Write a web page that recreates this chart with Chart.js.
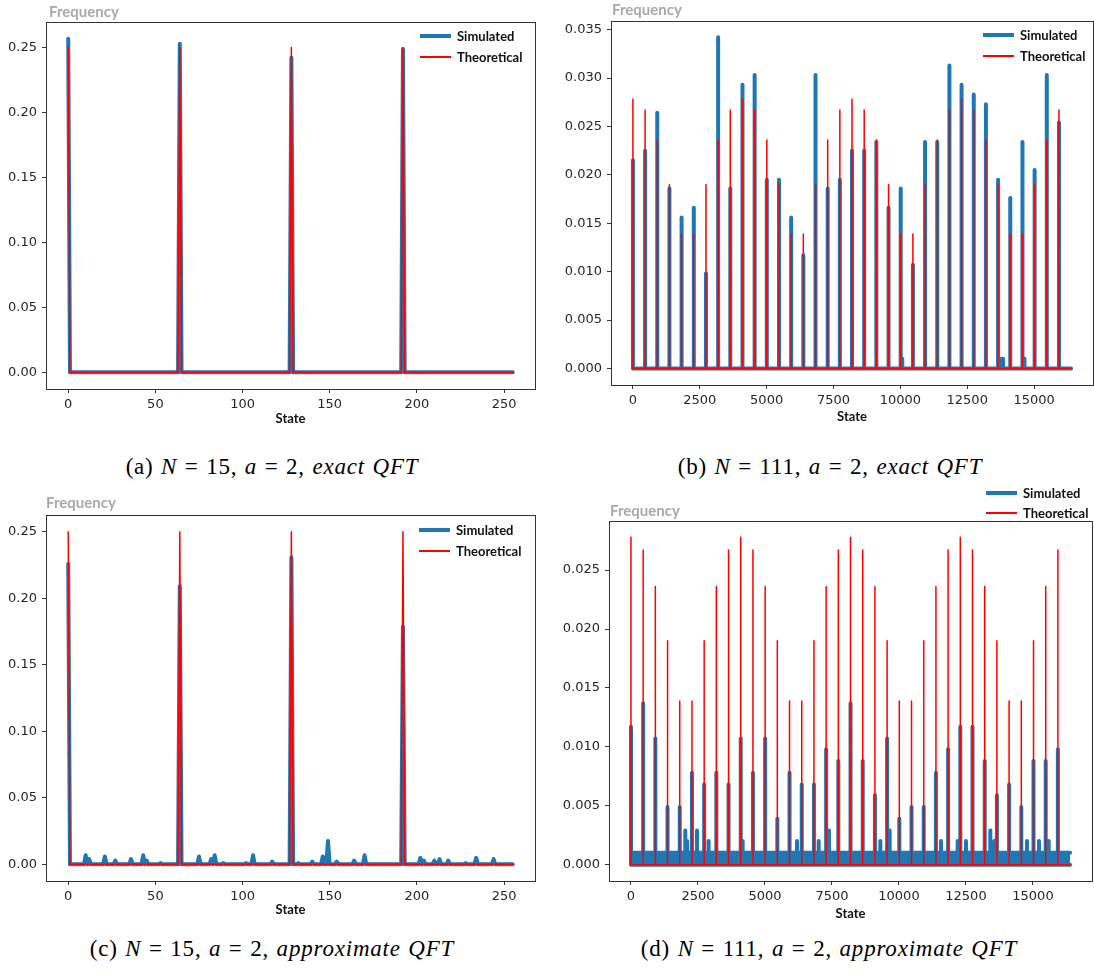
<!DOCTYPE html>
<html>
<head>
<meta charset="utf-8">
<script src="https://cdn.jsdelivr.net/npm/chart.js@4.4.1/dist/chart.umd.min.js"></script>
<style>
    body { margin: 0; width: 1094px; height: 977px; background: #fff; position: relative; overflow: hidden; }
    canvas { position: absolute; }
    .freq { position: absolute; font: bold 15px Lato, sans-serif; color: #a9a9a9; line-height: 16px; transform: translateY(-50%); }
    .legend-row { position: absolute; display: flex; align-items: center; font: bold 13px Lato, sans-serif; color: #111; transform: translateY(-50%); }
    .swatch { width: 31px; margin-right: 6px; }
    .caption { position: absolute; font-family: "Liberation Serif", serif; font-size: 23px; letter-spacing: 0.8px; word-spacing: 1px; color: #000; white-space: nowrap; transform: translate(-50%, -50%); }
</style>
</head>
<body>
<canvas id="chartA" width="545" height="430" style="left:0;top:0"></canvas>
<canvas id="chartB" width="534" height="430" style="left:560px;top:0"></canvas>
<canvas id="chartC" width="545" height="445" style="left:0;top:480px"></canvas>
<canvas id="chartD" width="534" height="445" style="left:560px;top:480px"></canvas>

<div class="caption" style="left:272px;top:467px">(a) <i>N</i> = 15, <i>a</i> = 2, <i>exact QFT</i></div>
<div class="caption" style="left:830px;top:467px">(b) <i>N</i> = 111, <i>a</i> = 2, <i>exact QFT</i></div>
<div class="caption" style="left:272px;top:949px">(c) <i>N</i> = 15, <i>a</i> = 2, <i>approximate QFT</i></div>
<div class="caption" style="left:829px;top:949px">(d) <i>N</i> = 111, <i>a</i> = 2, <i>approximate QFT</i></div>

<script>
// ---- N = 15 : 256 states ----
const statesN15 = 256;
const peaksN15 = [0, 64, 128, 192];
const theoN15 = [0.25, 0.25, 0.25, 0.25];
const simExactN15 = [0.2568, 0.2529, 0.2422, 0.2490];
const simApproxN15 = [0.2256, 0.2090, 0.2305, 0.1787];
// small side bumps of the approximate QFT run
const bumpStatesN15 = [10, 12, 21, 27, 36, 43, 45, 53, 75, 82, 84, 89, 102, 106, 117, 132, 140, 146, 149, 154, 164, 170, 202, 204, 210, 213, 218, 228, 234, 244];
const bumpValuesN15 = [0.0068, 0.0039, 0.0059, 0.0029, 0.0039, 0.0068, 0.0029, 0.0010, 0.0059, 0.0039, 0.0068, 0.0010, 0.0010, 0.0068, 0.0020, 0.0010, 0.0020, 0.0059, 0.0176, 0.0020, 0.0029, 0.0068, 0.0049, 0.0029, 0.0029, 0.0039, 0.0029, 0.0010, 0.0049, 0.0039];

// ---- N = 111 : 16384 states ----
const statesN111 = 16384;
const peaksN111 = [0, 455, 910, 1365, 1820, 2276, 2731, 3186, 3641, 4096, 4551, 5006, 5461, 5916, 6372, 6827, 7282, 7737,
                   8192, 8647, 9102, 9557, 10012, 10468, 10923, 11378, 11833, 12288, 12743, 13198, 13653, 14108, 14564, 15019, 15474, 15929];
const theoN111 = [0.0278, 0.0267, 0.0236, 0.0190, 0.0139, 0.0139, 0.0190, 0.0236, 0.0267,
                  0.0278, 0.0267, 0.0236, 0.0190, 0.0139, 0.0139, 0.0190, 0.0236, 0.0267,
                  0.0278, 0.0267, 0.0236, 0.0190, 0.0139, 0.0139, 0.0190, 0.0236, 0.0267,
                  0.0278, 0.0267, 0.0236, 0.0190, 0.0139, 0.0139, 0.0190, 0.0236, 0.0267];
const simExactN111 = [0.0215, 0.0225, 0.0264, 0.0186, 0.0156, 0.0166, 0.0098, 0.0342, 0.0186,
                      0.0293, 0.0303, 0.0195, 0.0195, 0.0156, 0.0117, 0.0303, 0.0186, 0.0195,
                      0.0225, 0.0225, 0.0234, 0.0166, 0.0186, 0.0107, 0.0234, 0.0234, 0.0313,
                      0.0293, 0.0283, 0.0273, 0.0195, 0.0176, 0.0234, 0.0205, 0.0303, 0.0254];
const bumpStatesExactN111 = [10070, 13740, 13840, 14640];
const bumpValuesExactN111 = [0.0010, 0.0010, 0.0010, 0.0010];
const simApproxN111 = [0.0117, 0.0137, 0.0107, 0.0049, 0.0049, 0.0078, 0.0068, 0.0078, 0.0068,
                       0.0107, 0.0078, 0.0107, 0.0039, 0.0078, 0.0068, 0.0068, 0.0098, 0.0088,
                       0.0137, 0.0088, 0.0059, 0.0107, 0.0039, 0.0049, 0.0049, 0.0078, 0.0098,
                       0.0117, 0.0117, 0.0088, 0.0059, 0.0068, 0.0049, 0.0088, 0.0088, 0.0098];
const bumpStatesApproxN111 = [2027, 2100, 2463, 2898, 4167, 6194, 7003, 7388, 9304, 9652, 11567, 12189, 12500, 13408, 13557, 14776, 15224, 15585];
const bumpValuesApproxN111 = [0.0029, 0.0020, 0.0029, 0.0020, 0.0020, 0.0020, 0.0020, 0.0029, 0.0020, 0.0029, 0.0020, 0.0020, 0.0020, 0.0029, 0.0020, 0.0020, 0.0020, 0.0020];
const noiseFloorN111 = 0.0010;   // dense one-count background of the approximate run

// ---- tick labels ----
const xTicksN15 = [0, 50, 100, 150, 200, 250];
const yTicksN15 = [0, 0.05, 0.10, 0.15, 0.20, 0.25];
const xTicksN111 = [0, 2500, 5000, 7500, 10000, 12500, 15000];
const yTicksExactN111 = [0, 0.005, 0.010, 0.015, 0.020, 0.025, 0.030, 0.035];
const yTicksApproxN111 = [0, 0.005, 0.010, 0.015, 0.020, 0.025];

const simLabel = "Simulated";
const theoLabel = "Theoretical";
const blue = "#1f77b4";
const red = "#ff0000";

// every state not listed is zero -> only keep the listed states and their zero neighbours
function buildPoints(nStates, states, values) {
    const byState = new Map();
    states.forEach((s, i) => byState.set(s, values[i]));
    const xs = new Set([0, nStates - 1]);
    byState.forEach((v, s) => {
        xs.add(s);
        if (s > 0) xs.add(s - 1);
        if (s < nStates - 1) xs.add(s + 1);
    });
    return [...xs].sort((a, b) => a - b).map(x => ({ x: x, y: byState.get(x) || 0 }));
}

function simSet(points) {
    return { label: simLabel, data: points, borderColor: blue, backgroundColor: blue, borderWidth: 4, order: 1 };
}
function theoSet(points) {
    return { label: theoLabel, data: points, borderColor: red, backgroundColor: red, borderWidth: 1.5, order: 0 };
}

// matplotlib style box around the axes
const framePlugin = {
    id: "frame",
    afterDraw(chart) {
        const { ctx, chartArea: a } = chart;
        ctx.save();
        ctx.strokeStyle = "#333";
        ctx.lineWidth = 1;
        ctx.strokeRect(Math.round(a.left) + 0.5, Math.round(a.top) + 0.5, Math.round(a.right - a.left), Math.round(a.bottom - a.top));
        ctx.restore();
    }
};

const tickFont = { family: "DejaVu Sans", size: 13 };

function makeChart(id, p) {
    return new Chart(document.getElementById(id), {
        type: "line",
        data: { datasets: p.datasets },
        options: {
            responsive: false,
            animation: false,
            devicePixelRatio: 1,
            layout: { padding: p.padding },
            plugins: { legend: { display: false }, tooltip: { enabled: false } },
            elements: {
                point: { radius: 0 },
                line: { tension: 0, borderJoinStyle: "round", borderCapStyle: "round" }
            },
            scales: {
                x: {
                    type: "linear",
                    min: p.xMin, max: p.xMax,
                    afterBuildTicks: s => { s.ticks = p.xTicks.map(v => ({ value: v })); },
                    afterFit: s => { s.height = p.xAxisHeight; },
                    ticks: { font: tickFont, color: "#262626", padding: 4, maxRotation: 0, autoSkip: false, callback: v => String(v) },
                    grid: { drawOnChartArea: false, tickLength: 4, color: "#333" },
                    border: { display: false },
                    title: {
                        display: true, text: "State", color: "#111",
                        font: { family: "Lato", weight: "bold", size: 13 },
                        padding: { top: 0, bottom: p.titlePad }
                    }
                },
                y: {
                    type: "linear",
                    min: p.yMin, max: p.yMax,
                    afterBuildTicks: s => { s.ticks = p.yTicks.map(v => ({ value: v })); },
                    afterFit: s => { s.width = p.yAxisWidth; },
                    ticks: { font: tickFont, color: "#262626", padding: 5, callback: v => v.toFixed(p.decimals) },
                    grid: { drawOnChartArea: false, tickLength: 4, color: "#333" },
                    border: { display: false }
                }
            }
        },
        plugins: [framePlugin]
    });
}

function addFrequency(left, top) {
    const d = document.createElement("div");
    d.className = "freq";
    d.textContent = "Frequency";
    d.style.left = left + "px";
    d.style.top = top + "px";
    document.body.appendChild(d);
}

function addLegend(chart, left, tops) {
    const items = [simLabel, theoLabel].map(l => chart.data.datasets.find(ds => ds.label === l));
    items.forEach((ds, i) => {
        const row = document.createElement("div");
        row.className = "legend-row";
        row.style.left = left + "px";
        row.style.top = tops[i] + "px";
        row.innerHTML = `<div class="swatch" style="height:${ds.borderWidth}px;background:${ds.borderColor}"></div><span>${ds.label}</span>`;
        document.body.appendChild(row);
    });
}

// (a) exact, N = 15
const chartA = makeChart("chartA", {
    datasets: [theoSet(buildPoints(statesN15, peaksN15, theoN15)), simSet(buildPoints(statesN15, peaksN15, simExactN15))],
    padding: { left: 0, top: 22, right: 10, bottom: 0 },
    xMin: -12.75, xMax: 267.75, xTicks: xTicksN15, xAxisHeight: 41, titlePad: 3,
    yMin: -0.0128, yMax: 0.2697, yTicks: yTicksN15, yAxisWidth: 46, decimals: 2
});

// (b) exact, N = 111
const chartB = makeChart("chartB", {
    datasets: [theoSet(buildPoints(statesN111, peaksN111, theoN111)),
               simSet(buildPoints(statesN111, peaksN111.concat(bumpStatesExactN111), simExactN111.concat(bumpValuesExactN111)))],
    padding: { left: 0, top: 21, right: 1, bottom: 0 },
    xMin: -819, xMax: 17202, xTicks: xTicksN111, xAxisHeight: 45, titlePad: 5,
    yMin: -0.00171, yMax: 0.03589, yTicks: yTicksExactN111, yAxisWidth: 51, decimals: 3
});

// (c) approximate, N = 15
const chartC = makeChart("chartC", {
    datasets: [theoSet(buildPoints(statesN15, peaksN15, theoN15)),
               simSet(buildPoints(statesN15, peaksN15.concat(bumpStatesN15), simApproxN15.concat(bumpValuesN15)))],
    padding: { left: 0, top: 35, right: 10, bottom: 0 },
    xMin: -12.75, xMax: 267.75, xTicks: xTicksN15, xAxisHeight: 44, titlePad: 7,
    yMin: -0.0125, yMax: 0.2625, yTicks: yTicksN15, yAxisWidth: 46, decimals: 2
});

// (d) approximate, N = 111
const floorSet = {
    label: "floor", data: [{ x: 0, y: noiseFloorN111 }, { x: statesN111 - 1, y: noiseFloorN111 }],
    borderColor: blue, backgroundColor: blue, borderWidth: 4, fill: "origin", order: 2
};
const chartD = makeChart("chartD", {
    datasets: [theoSet(buildPoints(statesN111, peaksN111, theoN111)),
               simSet(buildPoints(statesN111, peaksN111.concat(bumpStatesApproxN111), simApproxN111.concat(bumpValuesApproxN111))),
               floorSet],
    padding: { left: 0, top: 41, right: 2, bottom: 0 },
    xMin: -819, xMax: 17202, xTicks: xTicksN111, xAxisHeight: 44, titlePad: 3,
    yMin: -0.00139, yMax: 0.02917, yTicks: yTicksApproxN111, yAxisWidth: 49, decimals: 3
});

addFrequency(49, 11);
addFrequency(612, 9);
addFrequency(46, 502);
addFrequency(610, 510);

addLegend(chartA, 420, [36, 57]);
addLegend(chartB, 983, [35, 56]);
addLegend(chartC, 419, [530, 551]);
addLegend(chartD, 986, [493, 513]);
</script>
</body>
</html>
